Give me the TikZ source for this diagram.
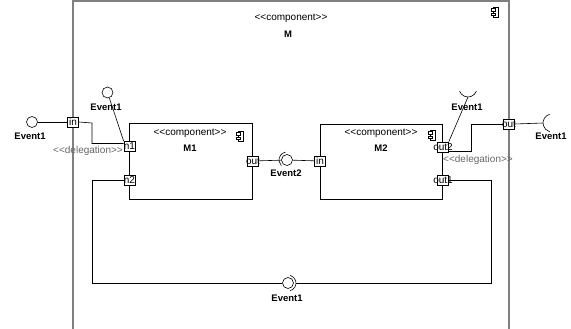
\documentclass[tikz,border=0pt]{standalone}
\usepackage{fontspec}
\setmainfont{Liberation Sans}[Ligatures=TeXOff]
\usetikzlibrary{positioning}
\tikzset{compicon/.pic={
	\draw[line width=.5pt] (-2,-5) rectangle (3,5);
	\draw[line width=.5pt, fill=white] (-4,1.2) rectangle (0,3.4);
	\draw[line width=.5pt, fill=white] (-4,-3.4) rectangle (0,-1.2);
}}
\begin{document}
\begin{tikzpicture}[x=1pt, y=1pt, font=\fontsize{10}{12}\selectfont,
	port/.style={draw, fill=white, line width=.6pt, minimum width=11pt, minimum height=10pt, inner sep=0pt},
	portlbl/.style={inner sep=0pt},
	compbox/.style={draw, line width=.7pt},
	ball/.style={draw, circle, line width=.6pt, minimum size=11pt, inner sep=0pt},
	evt/.style={font=\fontsize{9.5}{11}\selectfont\bfseries, inner sep=0pt},
	deleg/.style={text=gray!80!black, inner sep=0pt},
	wire/.style={line width=.6pt}]
	\useasboundingbox (0,0) rectangle (571,-329);
	%outer component
	\draw[gray, line width=1.3pt] (73,-329) -- (73,-1) -- (509,-1) -- (509,-329);
	\node (stM) at (291,-18) {<<component>>};
	\node[font=\fontsize{9.5}{11}\selectfont\bfseries] (nmM) at (288,-34) {M};
	\pic at (495,-12) {compicon};
	%inner components
	\draw[compbox] (129,-123) rectangle (252,-199);
	\node (stM1) at (190,-133) {<<component>>};
	\node[font=\fontsize{9.5}{11}\selectfont\bfseries] (nmM1) at (190,-148) {M1};
	\pic at (240,-136) {compicon};
	\draw[compbox] (320,-124) rectangle (442,-199);
	\node (stM2) at (381,-133) {<<component>>};
	\node[font=\fontsize{9.5}{11}\selectfont\bfseries] (nmM2) at (381,-148) {M2};
	\pic at (432,-135) {compicon};
	%events
	\node[ball] (evL) at (32,-122) {};
	\node[ball] (evT) at (107.5,-92.5) {};
	\node[ball] (evB) at (287,-160) {};
	\node[ball] (evC) at (288,-283) {};
	\coordinate (skT) at (468,-97);
	\coordinate (skR) at (543,-123);
	\draw[wire] (287,-160) ++(100:8) arc[start angle=100, end angle=225, radius=8];
	\draw[wire] (288,-283) ++(-75:8) arc[start angle=-75, end angle=75, radius=8];
	\draw[wire] (468,-88) ++(200:9) arc[start angle=200, end angle=340, radius=9];
	\draw[wire] (552,-123) ++(105:9) arc[start angle=105, end angle=255, radius=9];
	\node[evt] at (30,-136) {Event1};
	\node[evt] at (106,-107) {Event1};
	\node[evt] at (286,-173) {Event2};
	\node[evt] at (467,-107) {Event1};
	\node[evt] at (551,-136) {Event1};
	\node[evt] at (287,-298) {Event1};
	%ports
	\foreach \nm/\px/\py/\txt in {
		inp/73/122/in,
		n1/129.5/146.5/n1,
		n2/129.5/180/n2,
		outM1/253/161/out,
		inM2/320/161/in,
		out2/443/147/out2,
		out1/443/180/out1,
		outp/509/124/out
	}
	{
		\node[port] (\nm) at (\px,-\py) {};
		\node[portlbl] at (\nm) {\txt};
	}
	%wires
	\draw[wire] (evL) -- (inp);
	\draw[wire] (inp.east) -- (92,-123) |- ([yshift=3pt]n1.west);
	\draw[wire] (evT) -- (n1.north west);
	\draw[wire] (outM1) -- (evB);
	\draw[wire] (evB) -- (inM2);
	\draw[wire] (skT) -- (out2.north east);
	\draw[wire] ([yshift=-4pt]out2.east) -- (471,-151) |- (outp.west);
	\draw[wire] (outp.east) -- (skR);
	\draw[wire] (n2.west) -- (92,-180) |- (evC.west);
	\draw[wire] (out1.east) -- (491,-180) |- ([xshift=2pt]evC.east);
	\node[deleg] at (88,-151) {<<delegation>>};
	\node[deleg] at (478,-160) {<<delegation>>};
\end{tikzpicture}
\end{document}
